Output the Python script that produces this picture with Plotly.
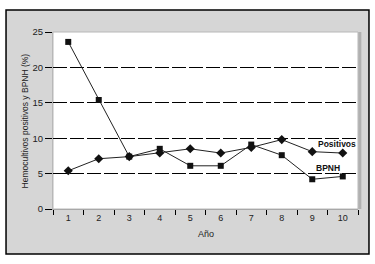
import plotly.graph_objects as go

years = ["1", "2", "3", "4", "5", "6", "7", "8", "9", "10"]
bpnh = [23.6, 15.4, 7.4, 8.5, 6.1, 6.1, 9.1, 7.6, 4.2, 4.6]
positivos = [5.4, 7.1, 7.4, 7.9, 8.5, 7.9, 8.7, 9.8, 8.1, 7.9]
y_ticks = [0, 5, 10, 15, 20, 25]
grid_vals = [5, 10, 15, 20]

FONT = "Liberation Sans, Arial, sans-serif"
BOLD = "Liberation Sans Narrow, Arial Narrow, Liberation Sans, sans-serif"

fig = go.Figure()
# invisible carrier so the grid-only overlay axis is drawn
fig.add_trace(go.Scatter(
    x=years, y=positivos, yaxis="y2", mode="lines", opacity=0,
    hoverinfo="skip", showlegend=False, line=dict(width=0),
))
fig.add_trace(go.Scatter(
    x=years, y=bpnh, mode="lines+markers", name="BPNH",
    line=dict(color="#222", width=1),
    marker=dict(symbol="square", size=6, color="#111"),
))
fig.add_trace(go.Scatter(
    x=years, y=positivos, mode="lines+markers", name="Positivos",
    line=dict(color="#222", width=1),
    marker=dict(symbol="diamond", size=7, color="#111"),
))

shapes = [
    dict(type="rect", xref="paper", yref="paper", x0=-0.154, x1=1.036, y0=-0.254, y1=1.124,
         fillcolor="#d6d6d6", line=dict(color="#000", width=1.5), layer="below"),
    dict(type="rect", xref="paper", yref="paper", x0=0, x1=1, y0=0, y1=1,
         fillcolor="#ffffff", line=dict(color="#b8b8b8", width=1), layer="below"),
    dict(type="line", xref="paper", yref="paper", x0=1.006, x1=1.006, y0=0, y1=1,
         line=dict(color="#b0b0b0", width=3), layer="below"),
]

annotations = [
    dict(text="<b>Positivos</b>", xref="paper", yref="y", x=0.931, y=9.2,
         xanchor="center", yanchor="middle",
         showarrow=False, font=dict(family=BOLD, size=8.5, color="#111")),
    dict(text="<b>BPNH</b>", xref="paper", yref="y", x=0.902, y=5.8,
         xanchor="center", yanchor="middle",
         showarrow=False, font=dict(family=BOLD, size=8.5, color="#111")),
    dict(text="Hemocultivos positivos y BPNH (%)", xref="paper", yref="paper",
         x=-0.092, y=0.5, textangle=-90, xanchor="center", yanchor="middle",
         showarrow=False, font=dict(family=FONT, size=8.5, color="#222")),
    dict(text="Año", xref="paper", yref="paper", x=0.5, y=-0.141,
         xanchor="center", yanchor="middle",
         showarrow=False, font=dict(family=FONT, size=9, color="#222")),
]

fig.update_layout(
    width=375, height=264,
    margin=dict(l=53, r=17, t=32, b=55, autoexpand=False),
    paper_bgcolor="#ffffff",
    plot_bgcolor="rgba(0,0,0,0)",
    showlegend=False,
    shapes=shapes,
    annotations=annotations,
    font=dict(family=FONT, size=9, color="#222"),
    xaxis=dict(
        type="category", categoryorder="array", categoryarray=years,
        range=[-0.5, 9.5], tickson="boundaries", ticks="outside", ticklen=5,
        tickcolor="#000", tickwidth=1, showline=True, linecolor="#a8a8a8",
        showgrid=False, zeroline=False, automargin=False,
        tickfont=dict(size=9),
    ),
    yaxis=dict(
        range=[0, 25], tickvals=y_ticks, ticks="outside", ticklen=7,
        tickcolor="#000", tickwidth=1, showline=True, linecolor="#b8b8b8",
        showgrid=False, zeroline=False, automargin=False,
        tickfont=dict(size=9.5),
    ),
    yaxis2=dict(
        overlaying="y", range=[0, 25], tickvals=grid_vals, showgrid=True,
        gridcolor="#000", gridwidth=1, griddash="14px,3px",
        showticklabels=False, ticks="", zeroline=False, showline=False,
        automargin=False,
    ),
)

fig.write_html("out.html", config={"displayModeBar": False},
               post_script="document.body.style.margin='0';")
